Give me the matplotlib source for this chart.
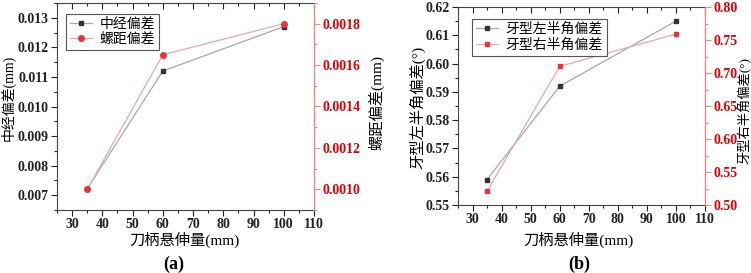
import matplotlib
matplotlib.use("Agg")
import matplotlib.pyplot as plt
from matplotlib.ticker import MultipleLocator, FormatStrFormatter

plt.rcParams['font.family'] = ['Liberation Serif', 'Noto Sans CJK SC']
plt.rcParams['axes.unicode_minus'] = False

# ---- data ----
x_len = [35, 60, 100]
pitch_diam_dev = [0.00722, 0.01120, 0.01270]   # 中经偏差 (mm)
pitch_dev = [0.00100, 0.00165, 0.00180]        # 螺距偏差 (mm)
left_half_angle = [0.559, 0.592, 0.615]        # 牙型左半角偏差 (°)
right_half_angle = [0.521, 0.710, 0.759]       # 牙型右半角偏差 (°)

W, H = 751, 273
fig = plt.figure(figsize=(W / 100, H / 100), dpi=100)

BLK_LINE = '#a8a8a8'
BLK_MK = '#333333'
RED_LINE = '#e6a8a8'
RED_MK = '#e8323c'
RED_SPINE = '#e08c8c'
RED_TXT = '#e00000'
TICK_FS = 10
LAB_FS = 10


def ax_rect(l, r, t, b):
    return [l / W, 1 - b / H, (r - l) / W, (b - t) / H]


def style(ax, ax2, xlim, ylim, y2lim, ymaj, ymin, y2maj, y2min, yfmt, y2fmt):
    ax.set_xlim(*xlim)
    ax.set_ylim(*ylim)
    ax2.set_ylim(*y2lim)
    ax.xaxis.set_major_locator(MultipleLocator(10))
    ax.xaxis.set_minor_locator(MultipleLocator(5))
    ax.yaxis.set_major_locator(MultipleLocator(ymaj))
    ax.yaxis.set_minor_locator(MultipleLocator(ymin))
    ax.yaxis.set_major_formatter(FormatStrFormatter(yfmt))
    ax2.yaxis.set_major_locator(MultipleLocator(y2maj))
    ax2.yaxis.set_minor_locator(MultipleLocator(y2min))
    ax2.yaxis.set_major_formatter(FormatStrFormatter(y2fmt))
    ax.tick_params(axis='both', which='major', direction='out', length=4, width=0.8,
                   labelsize=TICK_FS, colors='#222222', pad=2)
    ax.tick_params(axis='both', which='minor', direction='out', length=2, width=0.8,
                   colors='#222222')
    ax.tick_params(axis='x', which='both', top=True)
    ax.tick_params(axis='y', which='both', right=False)
    for lab in ax.get_xticklabels() + ax.get_yticklabels():
        lab.set_fontweight('bold')
    ax2.tick_params(axis='y', which='major', direction='out', length=4, width=0.8,
                    labelsize=TICK_FS, color=RED_SPINE, labelcolor=RED_TXT, pad=2)
    ax2.tick_params(axis='y', which='minor', direction='out', length=2, width=0.8,
                    color=RED_SPINE)
    for lab in ax2.get_yticklabels():
        lab.set_fontweight('bold')
    ax.spines['right'].set_visible(False)
    for s in ['left', 'top', 'bottom']:
        ax.spines[s].set_color('#444444')
        ax.spines[s].set_linewidth(0.8)
        ax2.spines[s].set_visible(False)
    ax2.spines['right'].set_color(RED_SPINE)
    ax2.spines['right'].set_linewidth(1.0)
    # top ticks point inward
    for t in ax.xaxis.get_major_ticks() + ax.xaxis.get_minor_ticks():
        t.tick2line.set_marker(3)  # TICKDOWN
    ax.set_facecolor('none')


def add_legend(ax2, handles, x, y):
    leg = ax2.legend(handles=handles, loc='upper left',
                     bbox_to_anchor=(x / W, 1 - y / H), bbox_transform=fig.transFigure,
                     borderaxespad=0, fancybox=False, edgecolor='#555555', framealpha=1,
                     fontsize=LAB_FS, handlelength=1.6, handletextpad=0.5,
                     borderpad=0.3, labelspacing=0.15)
    leg.get_frame().set_linewidth(0.8)
    return leg


# ---- panel (a) ----
axa = fig.add_axes(ax_rect(57, 314, 3, 210))
axa2 = axa.twinx()
la, = axa.plot(x_len, pitch_diam_dev, color=BLK_LINE, lw=0.9, marker='s', ms=3.5,
               mfc=BLK_MK, mec=BLK_MK, label='中经偏差')
lb, = axa2.plot(x_len, pitch_dev, color=RED_LINE, lw=0.9, marker='o', ms=4,
                mfc=RED_MK, mec=RED_MK, label='螺距偏差')
style(axa, axa2, (25, 110), (0.0065, 0.0135), (0.0009, 0.0019),
      0.001, 0.0005, 0.0002, 0.0001, '%.3f', '%.4f')
axa2.set_zorder(axa.get_zorder() + 1)
add_legend(axa2, [la, lb], 66, 14)

fig.text(8 / W, 1 - 98 / H, '中经偏差(mm)', rotation=90, ha='center', va='center',
         fontsize=LAB_FS)
fig.text(376 / W, 1 - 103 / H, '螺距偏差(mm)', rotation=90, ha='center', va='center',
         fontsize=LAB_FS + 1)
fig.text(184 / W, 1 - 240 / H, '刀柄悬伸量(mm)', ha='center', va='center', fontsize=LAB_FS + 1)
fig.text(174 / W, 1 - 264 / H, '(a)', ha='center', va='center', fontsize=13, fontweight='bold')

# ---- panel (b) ----
axb = fig.add_axes(ax_rect(458, 705, 7, 205))
axb2 = axb.twinx()
lc, = axb.plot(x_len, left_half_angle, color=BLK_LINE, lw=0.9, marker='s', ms=3.5,
               mfc=BLK_MK, mec=BLK_MK, label='牙型左半角偏差')
ld, = axb2.plot(x_len, right_half_angle, color=RED_LINE, lw=0.9, marker='s', ms=3.5,
                mfc=RED_MK, mec=RED_MK, label='牙型右半角偏差')
style(axb, axb2, (25, 110), (0.55, 0.62), (0.50, 0.80),
      0.01, 0.005, 0.05, 0.025, '%.2f', '%.2f')
axb2.set_zorder(axb.get_zorder() + 1)
add_legend(axb2, [lc, ld], 472, 19)

fig.text(417 / W, 1 - 107 / H, '牙型左半角偏差(°)', rotation=90, ha='center', va='center',
         fontsize=LAB_FS + 1)
fig.text(744 / W, 1 - 111 / H, '牙型右半角偏差(°)', rotation=90, ha='center', va='center',
         fontsize=9.5)
fig.text(578 / W, 1 - 240 / H, '刀柄悬伸量(mm)', ha='center', va='center', fontsize=LAB_FS + 1)
fig.text(579 / W, 1 - 264 / H, '(b)', ha='center', va='center', fontsize=13, fontweight='bold')

fig.savefig('out.png', dpi=100, facecolor='white')
